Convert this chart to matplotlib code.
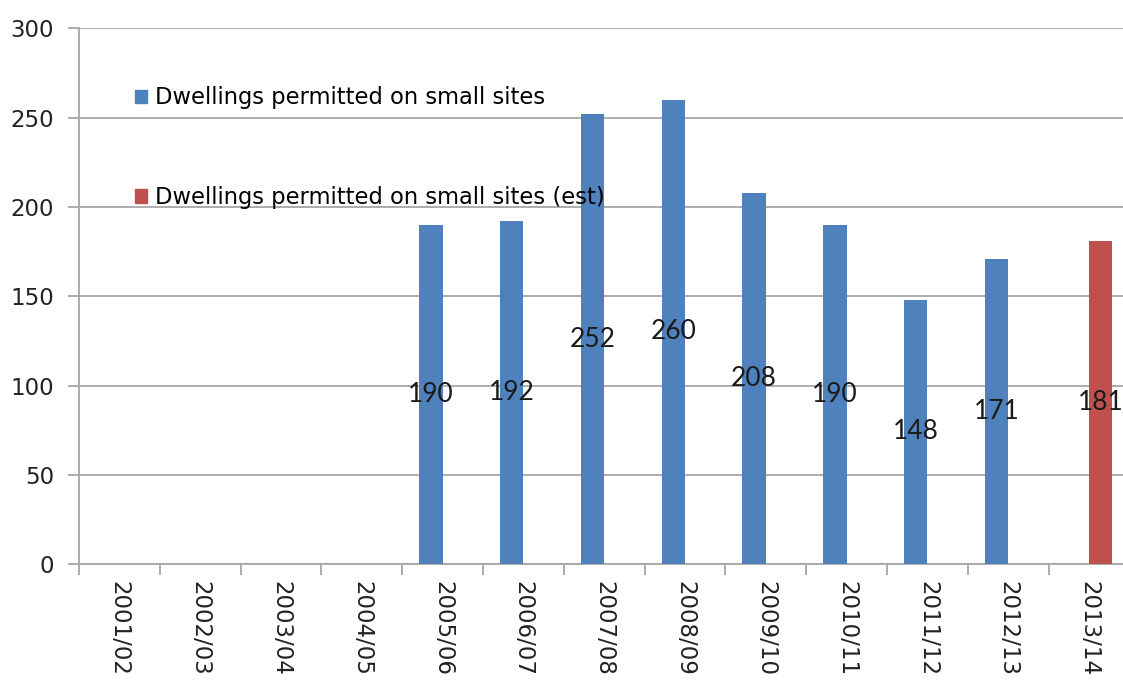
import matplotlib.pyplot as plt
from matplotlib.patches import Patch
import numpy as np

years = ['2001/02', '2002/03', '2003/04', '2004/05', '2005/06', '2006/07', '2007/08',
         '2008/09', '2009/10', '2010/11', '2011/12', '2012/13', '2013/14']
permitted = [np.nan, np.nan, np.nan, np.nan, 190, 192, 252, 260, 208, 190, 148, 171, np.nan]
permitted_est = [np.nan] * 12 + [181]

blue = '#4F81BD'
red = '#C0504D'
grid_col = '#A6A6A6'

fig = plt.figure(figsize=(11.23, 6.83), dpi=100)
ax = fig.add_axes([0.0703, 0.1742, 0.9354, 0.7841])

x = np.arange(len(years))
w = 0.29
ax.bar(x - w / 2, permitted, w, color=blue, zorder=3)
ax.bar(x + w / 2, permitted_est, w, color=red, zorder=3)

# data labels, centred in the bars
for i, v in enumerate(permitted):
    if not np.isnan(v):
        ax.text(x[i] - w / 2, v / 2, '%d' % v, ha='center', va='center',
                fontsize=19, family='Lato', color='#1a1a1a', zorder=4)
for i, v in enumerate(permitted_est):
    if not np.isnan(v):
        ax.text(x[i] + w / 2, v / 2, '%d' % v, ha='center', va='center',
                fontsize=19, family='Lato', color='#1a1a1a', zorder=4)

ax.set_xlim(-0.5, len(years) - 0.5)
ax.set_ylim(0, 300)
ax.set_yticks(range(0, 301, 50))
ax.yaxis.grid(True, color=grid_col, linewidth=1.3, zorder=0)

ax.set_xticks(x)
ax.set_xticklabels(years, rotation=-90, fontsize=16.5, color='#222222')
ax.set_xticks(np.arange(-0.5, len(years)), minor=True)
ax.tick_params(axis='x', which='major', length=0, pad=12)
ax.tick_params(axis='x', which='minor', length=8, color=grid_col, width=1.3)
ax.tick_params(axis='y', length=8, color=grid_col, width=1.3, labelsize=16.5,
               labelcolor='#222222', pad=10)

for s in ['top', 'right']:
    ax.spines[s].set_visible(False)
for s in ['left', 'bottom']:
    ax.spines[s].set_color(grid_col)
    ax.spines[s].set_linewidth(1.3)

handles = [Patch(color=blue, label='Dwellings permitted on small sites'),
           Patch(color=red, label='Dwellings permitted on small sites (est)')]
ax.legend(handles=handles, loc='upper left', bbox_to_anchor=(0.034, 0.93),
          frameon=False, fontsize=16.3, labelspacing=3.4,
          handlelength=0.55, handleheight=0.55, handletextpad=0.35)

fig.savefig('out.png', dpi=100)
